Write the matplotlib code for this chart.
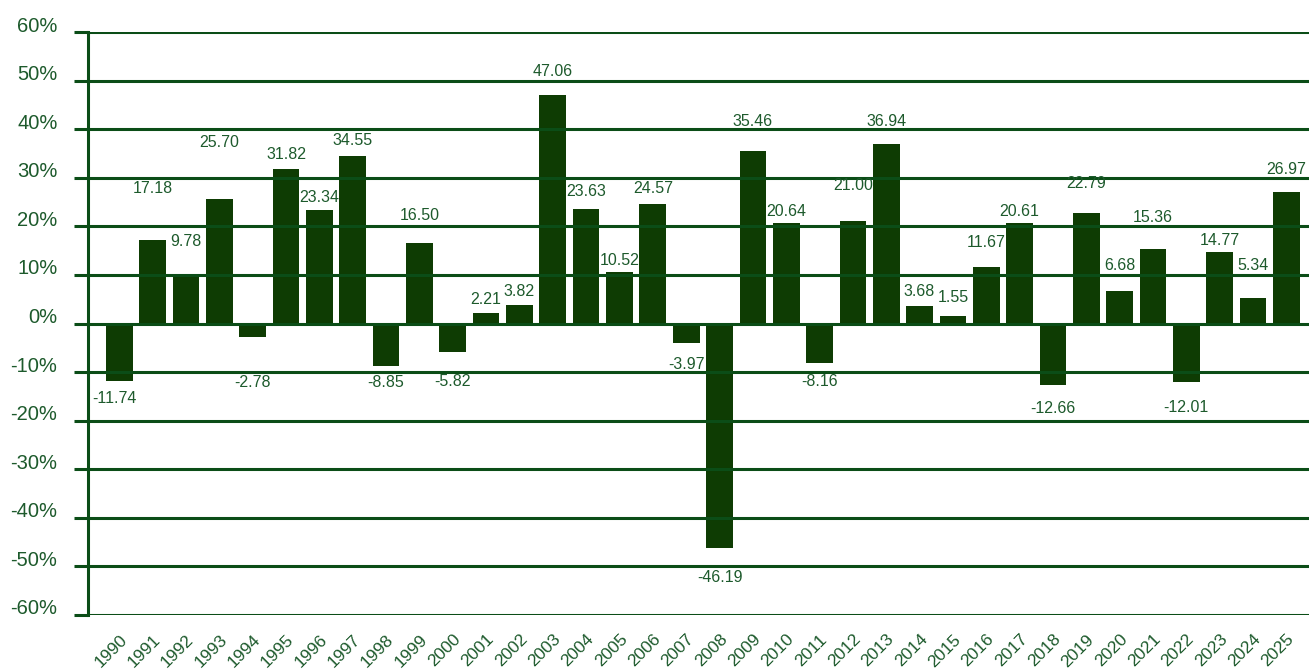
import matplotlib
matplotlib.use("Agg")
import matplotlib.pyplot as plt
import matplotlib.transforms as mtransforms
from matplotlib.ticker import FuncFormatter

years = [str(y) for y in range(1990, 2026)]
returns = [-11.74, 17.18, 9.78, 25.70, -2.78, 31.82, 23.34, 34.55, -8.85, 16.50,
           -5.82, 2.21, 3.82, 47.06, 23.63, 10.52, 24.57, -3.97, -46.19, 35.46,
           20.64, -8.16, 21.00, 36.94, 3.68, 1.55, 11.67, 20.61, -12.66, 22.79,
           6.68, 15.36, -12.01, 14.77, 5.34, 26.97]
yticks = list(range(-60, 61, 10))

# label placement tweaks (pixels away from bar end, horizontal shift)
label_gap = [18, 52, 34, 56, 45, 14, 13, 15, 16, 28, 30, 13, 13, 23, 17, 12, 16, 22,
             30, 30, 12, 18, 36, 23, 14, 18, 24, 12, 23, 29, 26, 31, 26, 11, 32, 23]
label_dx = [-5] + [0] * 35

bar_color = "#0e3c03"
line_color = "#0b4d17"
text_color = "#1d5a2c"

plt.rcParams['font.family'] = ['Liberation Sans', 'DejaVu Sans']

fig = plt.figure(figsize=(13.09, 6.69), dpi=100)
ax = fig.add_axes([88 / 1309, 54 / 669, 1 - 88 / 1309, (615 - 32) / 669])

x = list(range(len(years)))
ax.bar(x, returns, width=0.8, color=bar_color, zorder=2)

for i, v in enumerate(returns):
    off = label_gap[i] if v >= 0 else -label_gap[i]
    ax.annotate(f"{v:.2f}", xy=(i, v), xytext=(label_dx[i], off),
                textcoords="offset pixels", ha="center", va="center",
                fontsize=11.5, color=text_color, zorder=4)

ax.set_ylim(-60, 60)
ax.set_xlim(-0.94, 35.68)
ax.set_yticks(yticks)
ax.yaxis.set_major_formatter(FuncFormatter(lambda v, p: f"{int(v)}%"))
ax.grid(axis="y", color=line_color, linewidth=2.2, zorder=3)
ax.set_axisbelow(False)
ax.tick_params(axis="y", length=10, width=2.2, color=line_color, pad=12,
               labelsize=14.5, labelcolor=text_color)
shift = mtransforms.ScaledTranslation(0, 8 / 100, fig.dpi_scale_trans)
for lbl in ax.get_yticklabels():
    lbl.set_transform(lbl.get_transform() + shift)

ax.set_xticks(x)
ax.set_xticklabels(years, rotation=45, ha="right", rotation_mode="anchor")
ax.tick_params(axis="x", length=0, pad=12, labelsize=12.5, labelcolor=text_color)

for s in ["top", "right", "bottom"]:
    ax.spines[s].set_visible(False)
ax.spines["left"].set_color(line_color)
ax.spines["left"].set_linewidth(2.2)
ax.spines["left"].set_zorder(5)

fig.savefig("out.png", dpi=100)
